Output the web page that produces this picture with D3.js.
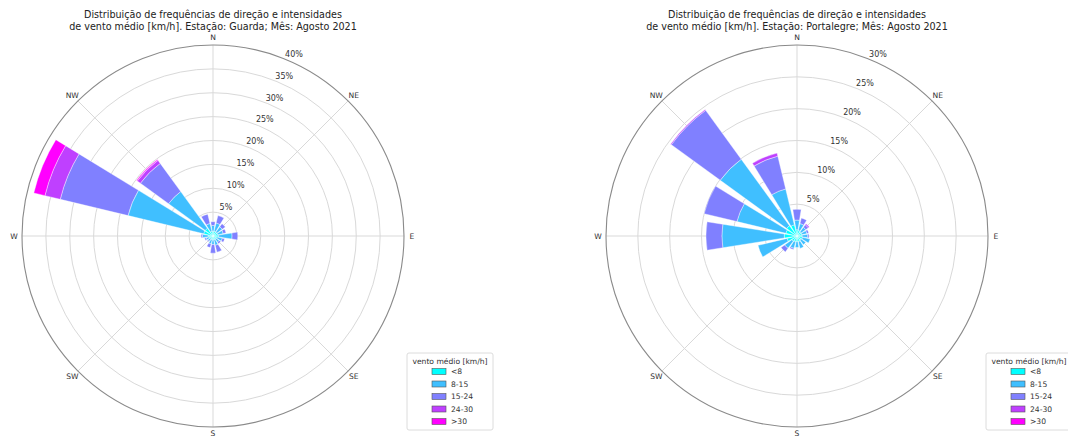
<!DOCTYPE html>
<html>
<head>
<meta charset="utf-8">
<script src="https://cdn.jsdelivr.net/npm/d3@7"></script>
<style>
  html, body { margin: 0; padding: 0; background: #fff; }
  svg { display: block; font-family: "DejaVu Sans", sans-serif; }
</style>
</head>
<body>
<svg id="chart" width="1068" height="439"></svg>
<script>
// 16 compass sectors, clockwise from north
const directions = ["N","NNE","NE","ENE","E","ESE","SE","SSE","S","SSW","SW","WSW","W","WNW","NW","NNW"];
const compassLabels = ["N","NE","E","SE","S","SW","W","NW"];
const speedBins = ["<8","8-15","15-24","24-30",">30"];
const binColors = ["#00ffff","#40bfff","#8080ff","#bf40ff","#ff00ff"];

// Frequency (%) per sector, one array per speed bin — Guarda, August 2021
const guardaLt8   = [1.0,1.0,1.0,1.0,1.2,0.9,0.8,0.8,0.8,0.8,0.7,0.8,1.0,2.0,2.0,1.0];
const guarda8_15  = [1.2,1.8,1.4,1.2,2.8,1.1,0.8,1.2,1.0,0.9,0.6,0.7,1.2,16.3,9.5,1.7];
const guarda15_24 = [0.8,1.6,0.8,0.6,1.2,0.5,0.4,1.5,1.8,0.8,0.2,0.3,0.3,14.6,7.3,2.0];
const guarda24_30 = [0,0,0,0,0,0,0,0,0,0,0,0,0,3.3,0.8,0];
const guardaGt30  = [0,0,0,0,0,0,0,0,0,0,0,0,0,2.4,0.2,0];
const guardaTicks = [5,10,15,20,25,30,35,40];

// Frequency (%) per sector, one array per speed bin — Portalegre, August 2021
const portLt8   = [1.0,0.9,0.8,0.8,0.8,0.9,0.8,0.9,0.9,0.9,1.0,1.6,2.0,1.8,2.0,1.8];
const port8_15  = [1.5,1.1,0.9,0.8,0.9,1.2,0.9,1.1,0.9,1.1,1.4,4.7,9.8,7.9,12.9,5.8];
const port15_24 = [1.7,0.9,0.5,0.3,0.2,0,0,0,0,0.2,0.7,0,2.5,5.3,9.5,5.3];
const port24_30 = [0,0,0.2,0,0,0,0,0,0,0,0,0,0,0,0.15,0.5];
const portGt30  = [0,0,0,0,0,0,0,0,0,0,0,0,0,0,0,0];
const portTicks = [5,10,15,20,25,30];

const svg = d3.select("#chart");
const R = 191;
const opening = 0.8;

function drawRose(opts) {
  const { cx, cy, title, series, ticks, legendX } = opts;
  const rmax = ticks[ticks.length - 1];
  const r = d3.scaleLinear().domain([0, rmax]).range([0, R]);
  const g = svg.append("g").attr("transform", `translate(${cx},${cy})`);

  // concentric grid circles
  g.selectAll("circle.grid").data(ticks.slice(0, -1)).join("circle")
    .attr("class", "grid").attr("r", d => r(d))
    .attr("fill", "none").attr("stroke", "#d9d9d9").attr("stroke-width", 1);

  // radial grid lines every 45°
  const spokes = d3.range(8).map(i => i * Math.PI / 4);
  g.selectAll("line.spoke").data(spokes).join("line")
    .attr("class", "spoke")
    .attr("x1", 0).attr("y1", 0)
    .attr("x2", a => R * Math.sin(a)).attr("y2", a => -R * Math.cos(a))
    .attr("stroke", "#d9d9d9").attr("stroke-width", 1);

  // stacked sector bars
  const step = 2 * Math.PI / directions.length;
  const half = step * opening / 2;
  const arc = d3.arc();
  const segs = [];
  directions.forEach((dname, j) => {
    let cum = 0;
    series.forEach((vals, i) => {
      const v = vals[j];
      if (v > 0) {
        segs.push({ j, i, inner: cum, outer: cum + v });
      }
      cum += v;
    });
  });
  g.selectAll("path.bar").data(segs).join("path")
    .attr("class", "bar")
    .attr("d", s => arc({
      innerRadius: r(s.inner), outerRadius: r(s.outer),
      startAngle: s.j * step - half, endAngle: s.j * step + half
    }))
    .attr("fill", s => binColors[s.i])
    .attr("stroke", "#ffffff").attr("stroke-width", 0.4);

  // outer frame
  g.append("circle").attr("r", R).attr("fill", "none")
    .attr("stroke", "#8a8a8a").attr("stroke-width", 1.1);

  // radial tick labels
  const la = 24 * Math.PI / 180;
  g.selectAll("text.rlab").data(ticks).join("text")
    .attr("class", "rlab")
    .attr("x", d => (r(d) + 8) * Math.sin(la))
    .attr("y", d => -(r(d) + 8) * Math.cos(la))
    .attr("text-anchor", "middle").attr("dy", "0.35em")
    .attr("font-size", 8).attr("fill", "#333")
    .text(d => d + "%");

  // compass labels
  g.selectAll("text.dlab").data(compassLabels).join("text")
    .attr("class", "dlab")
    .attr("x", (d, i) => (R + 8) * Math.sin(i * Math.PI / 4))
    .attr("y", (d, i) => -(R + (i === 4 ? 6 : 8)) * Math.cos(i * Math.PI / 4))
    .attr("text-anchor", "middle").attr("dy", "0.35em")
    .attr("font-size", 7.6).attr("fill", "#333")
    .text(d => d);

  // title
  const t = svg.append("text").attr("x", cx).attr("text-anchor", "middle")
    .attr("font-size", 9.6).attr("fill", "#222");
  t.append("tspan").attr("x", cx).attr("y", 18).text(title[0]);
  t.append("tspan").attr("x", cx).attr("y", 29.5).text(title[1]);

  // legend
  const lg = svg.append("g").attr("transform", `translate(${legendX},353)`);
  lg.append("rect").attr("width", 86).attr("height", 77).attr("rx", 2)
    .attr("fill", "#fff").attr("stroke", "#dcdcdc").attr("stroke-width", 1);
  lg.append("text").attr("x", 43).attr("y", 8.5).attr("text-anchor", "middle")
    .attr("dy", "0.35em").attr("font-size", 7.6).attr("fill", "#333")
    .text("vento médio [km/h]");
  const items = lg.selectAll("g.item").data(speedBins).join("g")
    .attr("class", "item")
    .attr("transform", (d, i) => `translate(0,${18.5 + i * 12.5})`);
  items.append("rect").attr("x", 25).attr("y", -3).attr("width", 14).attr("height", 6)
    .attr("fill", (d, i) => binColors[i]).attr("stroke", "#555").attr("stroke-width", 0.6);
  items.append("text").attr("x", 44).attr("dy", "0.35em")
    .attr("font-size", 7.6).attr("fill", "#333").text(d => d);
}

drawRose({
  cx: 213, cy: 236,
  title: ["Distribuição de frequências de direção e intensidades",
          "de vento médio [km/h]. Estação: Guarda; Mês: Agosto 2021"],
  series: [guardaLt8, guarda8_15, guarda15_24, guarda24_30, guardaGt30],
  ticks: guardaTicks,
  legendX: 407
});

drawRose({
  cx: 797, cy: 236,
  title: ["Distribuição de frequências de direção e intensidades",
          "de vento médio [km/h]. Estação: Portalegre; Mês: Agosto 2021"],
  series: [portLt8, port8_15, port15_24, port24_30, portGt30],
  ticks: portTicks,
  legendX: 986
});
</script>
</body>
</html>
